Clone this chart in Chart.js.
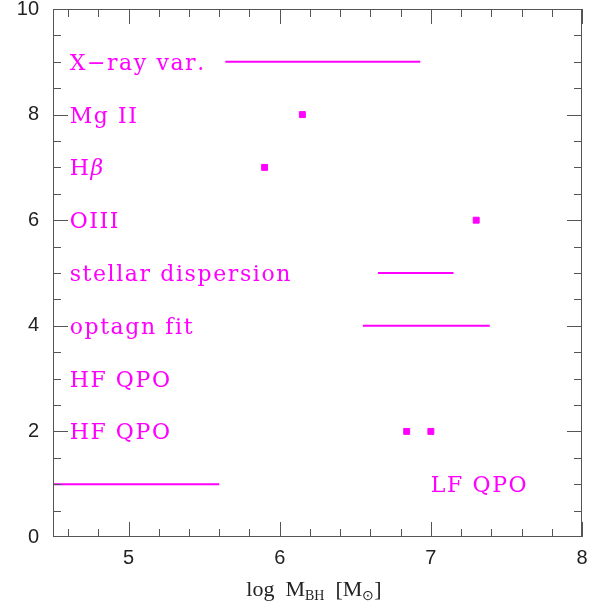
<!DOCTYPE html>
<html>
<head>
<meta charset="utf-8">
<script src="https://cdn.jsdelivr.net/npm/chart.js@4.4.1/dist/chart.umd.min.js"></script>
<style>
  html, body { margin: 0; padding: 0; background: #fff; }
  #wrap { width: 605px; height: 608px; }
</style>
</head>
<body>
<div id="wrap"><canvas id="massChart" width="605" height="608"></canvas></div>
<script>
// tick positions
const xTicks = [5, 6, 7, 8];
const yTicks = [0, 2, 4, 6, 8, 10];

// method names down the left side, and the row they sit on
const methodNames = ['X\u2212ray var.', 'Mg II', 'H\u03b2', 'OIII', 'stellar dispersion', 'optagn fit', 'HF QPO', 'HF QPO'];
const methodRows = [9, 8, 7, 6, 5, 4, 3, 2];
const methodTextX = 4.61;

// LF QPO is labelled on the right of its row
const lfLabel = 'LF QPO';
const lfLabelX = 7.0;
const lfLabelY = 1;

// mass ranges (log M_BH) drawn as bars
const xrayRange = [5.64, 6.93];
const stellarRange = [6.65, 7.15];
const optagnRange = [6.55, 7.39];
const lfqpoRange = [4.5, 5.6];

// single mass estimates
const mgiiMass = 6.15;
const hbetaMass = 5.9;
const oiiiMass = 7.3;
const hfqpoMasses = [6.84, 7.0];

const MAGENTA = '#ff00ff';

function rangeSet(range, row) {
    return {
        data: range.map(x => ({ x: x, y: row })),
        showLine: true,
        borderColor: MAGENTA,
        borderWidth: 2,
        pointRadius: 0
    };
}

function pointSet(points) {
    return {
        data: points,
        showLine: false,
        pointStyle: 'rect',
        pointRadius: 4.2,
        pointBorderWidth: 1,
        pointBackgroundColor: MAGENTA,
        pointBorderColor: MAGENTA
    };
}

// frame, inner ticks, labels and the axis title
const decorations = {
    id: 'decorations',
    afterDatasetsDraw(chart) {
        const ctx = chart.ctx;
        const xs = chart.scales.x;
        const ys = chart.scales.y;
        const a = chart.chartArea;

        ctx.save();
        ctx.strokeStyle = '#555';
        ctx.lineWidth = 1;
        ctx.strokeRect(a.left + 0.5, a.top + 0.5, a.right - a.left - 1, a.bottom - a.top - 1);

        ctx.beginPath();
        for (let i = 0; i <= 17; i++) {
            const v = 4.6 + i * 0.2;
            const px = Math.round(xs.getPixelForValue(v)) + 0.5;
            const major = Math.abs(v - Math.round(v)) < 1e-6;
            const len = major ? 15 : 8;
            ctx.moveTo(px, a.bottom);
            ctx.lineTo(px, a.bottom - len);
            ctx.moveTo(px, a.top);
            ctx.lineTo(px, a.top + len);
        }
        for (let i = 1; i < 20; i++) {
            const v = i * 0.5;
            const py = Math.round(ys.getPixelForValue(v)) + 0.5;
            const major = Math.abs(v / 2 - Math.round(v / 2)) < 1e-6;
            const len = major ? 15 : 8;
            ctx.moveTo(a.left, py);
            ctx.lineTo(a.left + len, py);
            ctx.moveTo(a.right, py);
            ctx.lineTo(a.right - len, py);
        }
        ctx.stroke();

        // method labels
        ctx.fillStyle = MAGENTA;
        ctx.textBaseline = 'alphabetic';
        ctx.textAlign = 'left';
        ctx.letterSpacing = '1.6px';
        const drawLabel = (text, xv, yv) => {
            let px = xs.getPixelForValue(xv);
            const py = ys.getPixelForValue(yv) + 8;
            for (const ch of text) {
                const greek = /[\u0370-\u03ff]/.test(ch);
                ctx.font = (greek ? 'italic ' : '') + '22px "DejaVu Serif"';
                ctx.fillText(ch, px, py);
                px += ctx.measureText(ch).width;
            }
        };
        methodNames.forEach((name, i) => drawLabel(name, methodTextX, methodRows[i]));
        drawLabel(lfLabel, lfLabelX, lfLabelY);
        ctx.letterSpacing = '0px';

        // x axis title: log M_BH [M_sun]
        ctx.fillStyle = '#222';
        const base = 596;
        const big = '22px "Liberation Serif"';
        const small = '14px "Liberation Serif"';
        const parts = [
            ['log  M', big, 0],
            ['BH', small, 4],
            ['  [M', big, 0],
            ['\u2299', small, 4],
            [']', big, 0]
        ];
        let total = 0;
        parts.forEach(p => { ctx.font = p[1]; total += ctx.measureText(p[0]).width; });
        let tx = 314 - total / 2;
        parts.forEach(p => {
            ctx.font = p[1];
            ctx.fillText(p[0], tx, base + p[2]);
            tx += ctx.measureText(p[0]).width;
        });
        ctx.restore();
    }
};

const ctx = document.getElementById('massChart').getContext('2d');
const chart = new Chart(ctx, {
    type: 'scatter',
    data: {
        datasets: [
            rangeSet(xrayRange, 9),
            rangeSet(stellarRange, 5),
            rangeSet(optagnRange, 4),
            rangeSet(lfqpoRange, 1),
            pointSet([
                { x: mgiiMass, y: 8 },
                { x: hbetaMass, y: 7 },
                { x: oiiiMass, y: 6 },
                { x: hfqpoMasses[0], y: 2 },
                { x: hfqpoMasses[1], y: 2 }
            ])
        ]
    },
    options: {
        responsive: false,
        animation: false,
        layout: { padding: { top: 9, right: 23, left: 0, bottom: 0 } },
        plugins: {
            legend: { display: false },
            tooltip: { enabled: false }
        },
        scales: {
            x: {
                type: 'linear',
                min: 4.5,
                max: 8,
                afterBuildTicks: s => { s.ticks = xTicks.map(v => ({ value: v })); },
                afterFit: s => { s.height = 71; s.paddingLeft = 0; s.paddingRight = 0; },
                grid: { display: false, drawTicks: false },
                border: { display: false },
                ticks: {
                    padding: 9,
                    color: '#222',
                    font: { family: 'Liberation Sans', size: 20 },
                    maxRotation: 0
                }
            },
            y: {
                type: 'linear',
                min: 0,
                max: 10,
                afterBuildTicks: s => { s.ticks = yTicks.map(v => ({ value: v })); },
                afterFit: s => { s.width = 53; s.paddingTop = 0; s.paddingBottom = 0; },
                grid: { display: false, drawTicks: false },
                border: { display: false },
                ticks: {
                    padding: 14,
                    color: '#222',
                    font: { family: 'Liberation Sans', size: 20 }
                }
            }
        }
    },
    plugins: [decorations]
});
</script>
</body>
</html>
